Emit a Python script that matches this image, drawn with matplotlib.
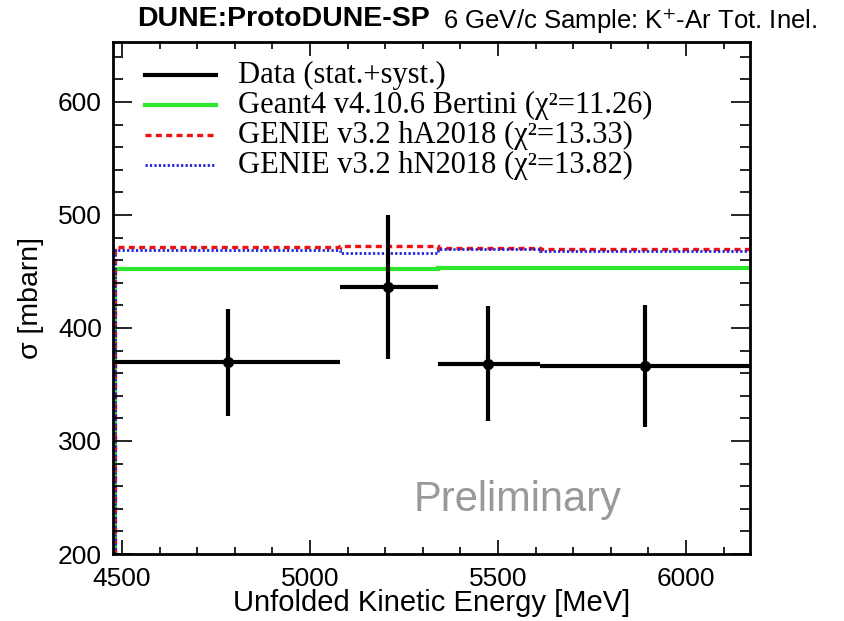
import numpy as np
import matplotlib
matplotlib.use("Agg")
import matplotlib.pyplot as plt
from matplotlib.lines import Line2D
from matplotlib.ticker import MultipleLocator

plt.rcParams["font.family"] = ["Liberation Sans", "DejaVu Sans"]
plt.rcParams["mathtext.fontset"] = "stix"

# unfolded kinetic-energy bins [MeV]
bin_edges = [4480, 5080, 5340, 5612, 6180]
data_xs = [4782, 5207, 5473, 5891]
data_sigma = [369.5, 436, 368.5, 366.5]
data_err = [47.5, 63.5, 51, 54]

g4_bertini = [452.5, 452.5, 453, 453]
genie_ha = [471.5, 472.5, 470.5, 469.5]
genie_hn = [469, 466.5, 470, 468.5]

labels = ["Data (stat.+syst.)",
          "Geant4 v4.10.6 Bertini (χ²=11.26)",
          "GENIE v3.2 hA2018 (χ²=13.33)",
          "GENIE v3.2 hN2018 (χ²=13.82)"]

YMIN, YMAX = 200, 653
XMIN, XMAX = 4476, 6170

GREEN, RED, BLUE = "#2ee82e", "#ee1111", "#2222dd"
styles = [dict(color="black", lw=3),
          dict(color=GREEN, lw=3),
          dict(color=RED, lw=2.4, ls=(0, (1.8, 1.3))),
          dict(color=BLUE, lw=2.0, ls=(0, (0.8, 0.8)))]

fig = plt.figure(figsize=(8.45, 6.21), dpi=100)
ax = fig.add_axes([113 / 845, 67 / 621, 637 / 845, 512 / 621])

edges = np.array(bin_edges)
ax.stairs(g4_bertini, edges, baseline=YMIN, **styles[1])
ax.stairs(genie_ha, edges, baseline=YMIN, **styles[2])
ax.stairs(genie_hn, edges, baseline=YMIN, **styles[3])

# data: horizontal bar covers the bin
right = np.minimum(edges[1:], XMAX)
lo = np.array(data_xs) - edges[:-1]
hi = right - np.array(data_xs)
ax.errorbar(data_xs, data_sigma, yerr=data_err, xerr=[lo, hi], fmt="o", color="black",
            ms=7, lw=3, capsize=0, zorder=5)

ax.set_xlim(XMIN, XMAX)
ax.set_ylim(YMIN, YMAX)
ax.xaxis.set_major_locator(MultipleLocator(500))
ax.xaxis.set_minor_locator(MultipleLocator(100))
ax.yaxis.set_major_locator(MultipleLocator(100))
ax.yaxis.set_minor_locator(MultipleLocator(20))
ax.tick_params(which="both", direction="in", top=True, right=True, width=1.2, labelsize=19)
ax.tick_params(axis="y", which="major", length=14, pad=8)
ax.tick_params(axis="y", which="minor", length=7)
ax.tick_params(axis="x", which="major", length=10, pad=9)
ax.tick_params(axis="x", which="minor", length=5)
for s in ax.spines.values():
    s.set_linewidth(2)

ax.set_xlabel("Unfolded Kinetic Energy [MeV]", fontsize=21, labelpad=-1)
ax.set_ylabel("σ [mbarn]", fontsize=20.5, labelpad=10)

# legend drawn row by row (ROOT-like tight spacing)
row_y = [75, 105, 135, 165]
for y, lab, st in zip(row_y, labels, styles):
    ya = (621 - 67 - y) / 512
    ax.add_line(Line2D([(145 - 113) / 637, (216 - 113) / 637], [ya, ya],
                       transform=ax.transAxes, **st))
    ax.text((238 - 113) / 637, ya, lab, transform=ax.transAxes, ha="left", va="center",
            fontsize=22, family=["Liberation Serif"])

ax.text(0.635, 0.105, "Preliminary", transform=ax.transAxes, ha="center", va="center",
        fontsize=30, color="#999999")

fig.text(137 / 845, 1 - 19 / 621, "DUNE:ProtoDUNE-SP", fontsize=20.5, fontweight="bold",
         ha="left", va="center")
fig.text(443 / 845, 1 - 21 / 621, "6 GeV/c Sample: K$^{+}$-Ar Tot. Inel.", fontsize=18.5,
         ha="left", va="center")

fig.savefig("out.png", dpi=100)
